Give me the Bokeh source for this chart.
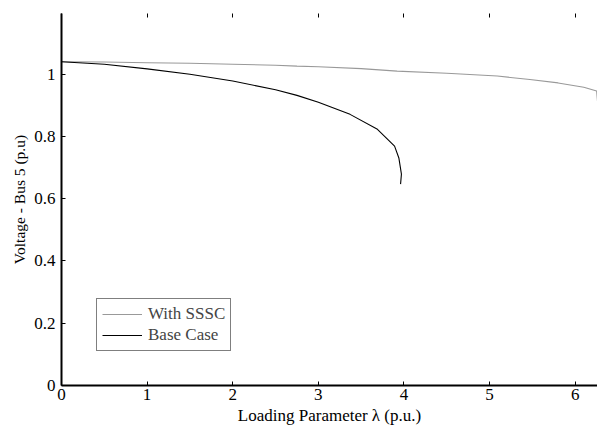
from bokeh.plotting import figure
from bokeh.models import LinearAxis, FixedTicker, Range1d, Legend, LegendItem
from bokeh.embed import file_html
from bokeh.resources import INLINE

# With SSSC curve
sssc_x = [0, 0.5, 1, 1.5, 2, 2.5, 2.75, 3, 3.5, 3.92, 4.5, 5.09, 5.47, 5.8, 6.1, 6.25, 6.26]
sssc_y = [1.04, 1.039, 1.037, 1.035, 1.032, 1.029, 1.026, 1.024, 1.018, 1.01, 1.003, 0.994, 0.983, 0.972, 0.958, 0.946, 0.913]

# Base case curve
base_x = [0, 0.5, 1, 1.5, 2, 2.5, 2.75, 3.0, 3.37, 3.69, 3.89, 3.94, 3.97, 3.96]
base_y = [1.04, 1.032, 1.017, 1.0, 0.978, 0.95, 0.932, 0.91, 0.871, 0.823, 0.769, 0.731, 0.679, 0.647]

x_ticks = [0, 1, 2, 3, 4, 5, 6]
y_ticks = [0, 0.2, 0.4, 0.6, 0.8, 1.0]
y_tick_labels = ["0", "0.2", "0.4", "0.6", "0.8", "1"]

FONT = "Liberation Serif"

p = figure(width=597, height=427, output_backend="svg", toolbar_location=None,
           x_range=Range1d(0, 6.26), y_range=Range1d(0, 1.195),
           min_border_left=61, min_border_right=0, min_border_top=13, min_border_bottom=42,
           x_axis_location=None, y_axis_location=None)
p.outline_line_color = None
p.grid.visible = False
p.background_fill_color = "white"
p.border_fill_color = "white"

r1 = p.line(sssc_x, sssc_y, line_color="#999999", line_width=1.1)
r2 = p.line(base_x, base_y, line_color="black", line_width=1.1)

xaxis = LinearAxis(ticker=FixedTicker(ticks=x_ticks), axis_label="Loading Parameter λ (p.u.)")
yaxis = LinearAxis(ticker=FixedTicker(ticks=y_ticks), axis_label="Voltage - Bus 5 (p.u)")
yaxis.major_label_overrides = {t: l for t, l in zip(y_ticks, y_tick_labels)}
for ax in (xaxis, yaxis):
    ax.axis_line_width = 2
    ax.axis_line_color = "black"
    ax.major_tick_in = 4
    ax.major_tick_out = 0
    ax.minor_tick_line_color = None
    ax.major_label_text_font = FONT
    ax.major_label_text_font_size = "17px"
    ax.major_label_text_color = "black"
    ax.axis_label_text_font = FONT
    ax.axis_label_text_font_size = "17px"
    ax.axis_label_text_font_style = "normal"
    ax.axis_label_text_color = "black"
yaxis.axis_label_text_font_size = "15.5px"
xaxis.major_label_standoff = 3
xaxis.axis_label_standoff = 3
yaxis.major_label_standoff = 6
yaxis.axis_label_standoff = 3
p.add_layout(xaxis, "below")
p.add_layout(yaxis, "left")

top = LinearAxis(ticker=FixedTicker(ticks=x_ticks))
top.axis_line_color = None
top.major_tick_in = 4
top.major_tick_out = 0
top.minor_tick_line_color = None
top.major_label_text_font_size = "0px"
top.major_label_text_alpha = 0
p.add_layout(top, "above")

legend = Legend(items=[LegendItem(label="With SSSC", renderers=[r1]),
                       LegendItem(label="Base Case", renderers=[r2])],
                location=(35, 34))
legend.label_text_font = FONT
legend.label_text_font_size = "17px"
legend.border_line_color = "black"
legend.border_line_width = 1
legend.glyph_width = 40
legend.glyph_height = 20
legend.label_height = 20
legend.padding = 5
legend.spacing = 1
legend.margin = 0
legend.label_standoff = 6
p.add_layout(legend, "center")

open("out.html", "w").write(file_html(p, INLINE))
